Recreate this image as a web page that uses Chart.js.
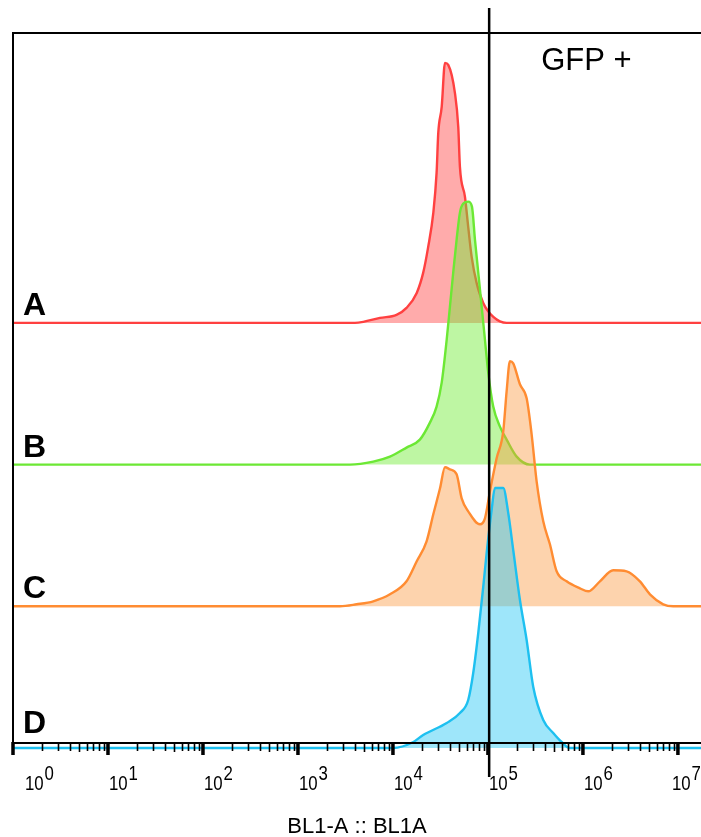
<!DOCTYPE html>
<html>
<head>
<meta charset="utf-8">
<title>BL1-A :: BL1A</title>
<script src="https://cdn.jsdelivr.net/npm/chart.js@4.4.1/dist/chart.umd.min.js"></script>
<style>
  html, body { margin: 0; padding: 0; background: #fff; }
  canvas { display: block; }
</style>
</head>
<body>
<canvas id="histo" width="701" height="837"></canvas>
<script>
"use strict";

/*--------------------------------------
    data
--------------------------------------*/

var sampleNames = ["A", "B", "C", "D"];

// BL1-A intensity / events, one pair per sample
var aIntensity = [1, 3980, 4870, 7300, 10900, 13900, 17800, 20800, 23500, 26600, 28800, 30000, 32600, 35300, 38200, 44900, 48700, 50700, 57300, 62000, 67400, 76000, 89200, 114000, 157000, 17500000];
var aCount = [0, 0, 1, 5, 8, 15, 30, 50, 76, 110, 150, 190, 216, 260, 258, 230, 196, 156, 126, 96, 66, 40, 20, 6, 0, 0];

var bIntensity = [1, 3530, 6200, 9300, 13900, 19200, 24500, 28800, 32600, 36800, 39800, 43100, 46800, 50700, 55000, 62000, 67900, 73000, 79100, 85900, 93000, 100700, 113700, 133800, 157300, 200500, 276700, 17500000];
var bCount = [0, 0, 3, 8, 17, 25, 42, 58, 82, 125, 158, 192, 225, 252, 261, 263, 258, 225, 192, 158, 125, 92, 58, 38, 25, 8, 0, 0];

var cIntensity = [1, 2770, 4150, 6200, 9300, 13900, 17800, 22600, 26600, 31300, 35300, 39800, 46800, 52900, 62000, 82400, 93000, 105000, 123500, 144900, 157300, 170400, 184600, 217200, 255500, 288400, 325500, 382100, 449400, 528700, 673600, 929900, 1137000, 1510000, 2084000, 2884000, 3981000, 5073000, 7003000, 8923000, 17500000];
var cCount = [0, 0, 2, 5, 12, 25, 45, 65, 92, 118, 139, 137, 132, 108, 95, 82, 88, 115, 148, 175, 215, 245, 243, 222, 208, 172, 125, 85, 62, 35, 25, 18, 15, 25, 36, 35, 25, 12, 2, 0, 0];

var dIntensity = [1, 10000, 16400, 20800, 36800, 50700, 62000, 70000, 79100, 89200, 96900, 109400, 118500, 144900, 163600, 184600, 217200, 255500, 300000, 382100, 486900, 596800, 729900, 17500000];
var dCount = [0, 0, 6, 13, 25, 35, 48, 75, 115, 161, 195, 238, 260, 260, 235, 198, 148, 108, 61, 28, 15, 6, 0, 0];

var decadeTicks = [1, 10, 100, 1000, 10000, 100000, 1000000, 10000000];
var decadeLabels = ["0", "1", "2", "3", "4", "5", "6", "7"];
var gateAt = 103000;
var gateLabel = "GFP +";
var axisTitle = "BL1-A :: BL1A";

/*--------------------------------------
    layout / styles
--------------------------------------*/

var laneGap = 141.7;
var laneFloor = 7;
var lineColors = ["rgb(255, 64, 64)", "rgb(108, 232, 52)", "rgb(255, 140, 50)", "rgb(30, 192, 240)"];
var fillColors = ["rgba(255, 0, 0, 0.33)", "rgba(110, 235, 50, 0.45)", "rgba(250, 150, 60, 0.42)", "rgba(40, 200, 245, 0.45)"];

var series = [[aIntensity, aCount], [bIntensity, bCount], [cIntensity, cCount], [dIntensity, dCount]];

function laneBase(i) {
  return laneFloor + (sampleNames.length - 1 - i) * laneGap;
}

var datasets = series.map(function (s, i) {
  var base = laneBase(i);
  return {
    label: sampleNames[i],
    data: s[0].map(function (x, k) { return { x: x, y: base + s[1][k] }; }),
    borderColor: lineColors[i],
    backgroundColor: fillColors[i],
    borderWidth: 2.4,
    borderJoinStyle: 'round',
    fill: { value: base },
    tension: 0.25,
    cubicInterpolationMode: 'monotone',
    pointRadius: 0,
    order: sampleNames.length - i
  };
});

/*-- axis, frame, gate and labels --*/
var frame = {
  id: 'frame',
  afterDraw: function (chart) {
    var ctx = chart.ctx;
    var xs = chart.scales.x;
    var ys = chart.scales.y;
    var area = chart.chartArea;
    var axisY = area.bottom - 12;

    ctx.save();
    ctx.strokeStyle = '#000';
    ctx.fillStyle = '#000';
    ctx.lineCap = 'butt';

    // top border + left axis
    ctx.lineWidth = 2;
    ctx.beginPath();
    ctx.moveTo(area.left - 1, area.top);
    ctx.lineTo(area.right, area.top);
    ctx.moveTo(area.left, area.top);
    ctx.lineTo(area.left, axisY);
    ctx.stroke();

    // x axis line
    ctx.beginPath();
    ctx.moveTo(area.left, axisY);
    ctx.lineTo(area.right, axisY);
    ctx.stroke();

    // minor ticks
    ctx.lineWidth = 1.6;
    ctx.beginPath();
    decadeTicks.forEach(function (d) {
      for (var m = 2; m <= 9; m++) {
        var v = d * m;
        if (v > xs.max) return;
        var x = Math.round(xs.getPixelForValue(v)) + 0.5;
        ctx.moveTo(x, axisY);
        ctx.lineTo(x, axisY + (m === 5 ? 9 : 8));
      }
    });
    ctx.stroke();

    // major ticks
    ctx.lineWidth = 3.5;
    ctx.beginPath();
    decadeTicks.forEach(function (d) {
      var x = xs.getPixelForValue(d);
      ctx.moveTo(x, axisY - 1);
      ctx.lineTo(x, axisY + 12);
    });
    ctx.stroke();

    // decade labels 10^n
    ctx.textAlign = 'left';
    ctx.textBaseline = 'alphabetic';
    decadeTicks.forEach(function (d, i) {
      var x = xs.getPixelForValue(d);
      var left = Math.min(Math.max(x + 1, area.left + 12), 672);
      ctx.save();
      ctx.translate(left, axisY + 47);
      ctx.scale(0.8, 1);
      ctx.font = '21px "Liberation Sans", Arial, sans-serif';
      ctx.fillText('10', 0, 0);
      var w = ctx.measureText('10').width;
      ctx.fillText(decadeLabels[i], w + 1, -10);
      ctx.restore();
    });

    // gate line
    var gx = xs.getPixelForValue(gateAt);
    ctx.lineWidth = 2.5;
    ctx.beginPath();
    ctx.moveTo(gx, area.top - 25);
    ctx.lineTo(gx, axisY + 34);
    ctx.stroke();

    ctx.font = '31px "Liberation Sans", Arial, sans-serif';
    ctx.fillText(gateLabel, gx + 52, area.top + 37);

    // sample letters
    ctx.font = 'bold 32px "Liberation Sans", Arial, sans-serif';
    sampleNames.forEach(function (name, i) {
      var y = Math.min(ys.getPixelForValue(laneBase(i)) - 8, axisY - 10);
      ctx.fillText(name, area.left + 10, y);
    });

    // axis title
    ctx.textAlign = 'center';
    ctx.font = '22px "Liberation Sans", Arial, sans-serif';
    ctx.fillText(axisTitle, 357, axisY + 90);
    ctx.restore();
  }
};

new Chart(document.getElementById('histo').getContext('2d'), {
  type: 'line',
  data: { datasets: datasets },
  options: {
    responsive: false,
    animation: false,
    devicePixelRatio: 1,
    layout: { padding: { left: 13, top: 33, right: 0, bottom: 82 } },
    scales: {
      x: { type: 'logarithmic', min: 1, max: 17500000, display: false },
      y: { type: 'linear', min: 0, max: 722, display: false }
    },
    plugins: {
      legend: { display: false },
      tooltip: { enabled: false }
    }
  },
  plugins: [frame]
});
</script>
</body>
</html>
